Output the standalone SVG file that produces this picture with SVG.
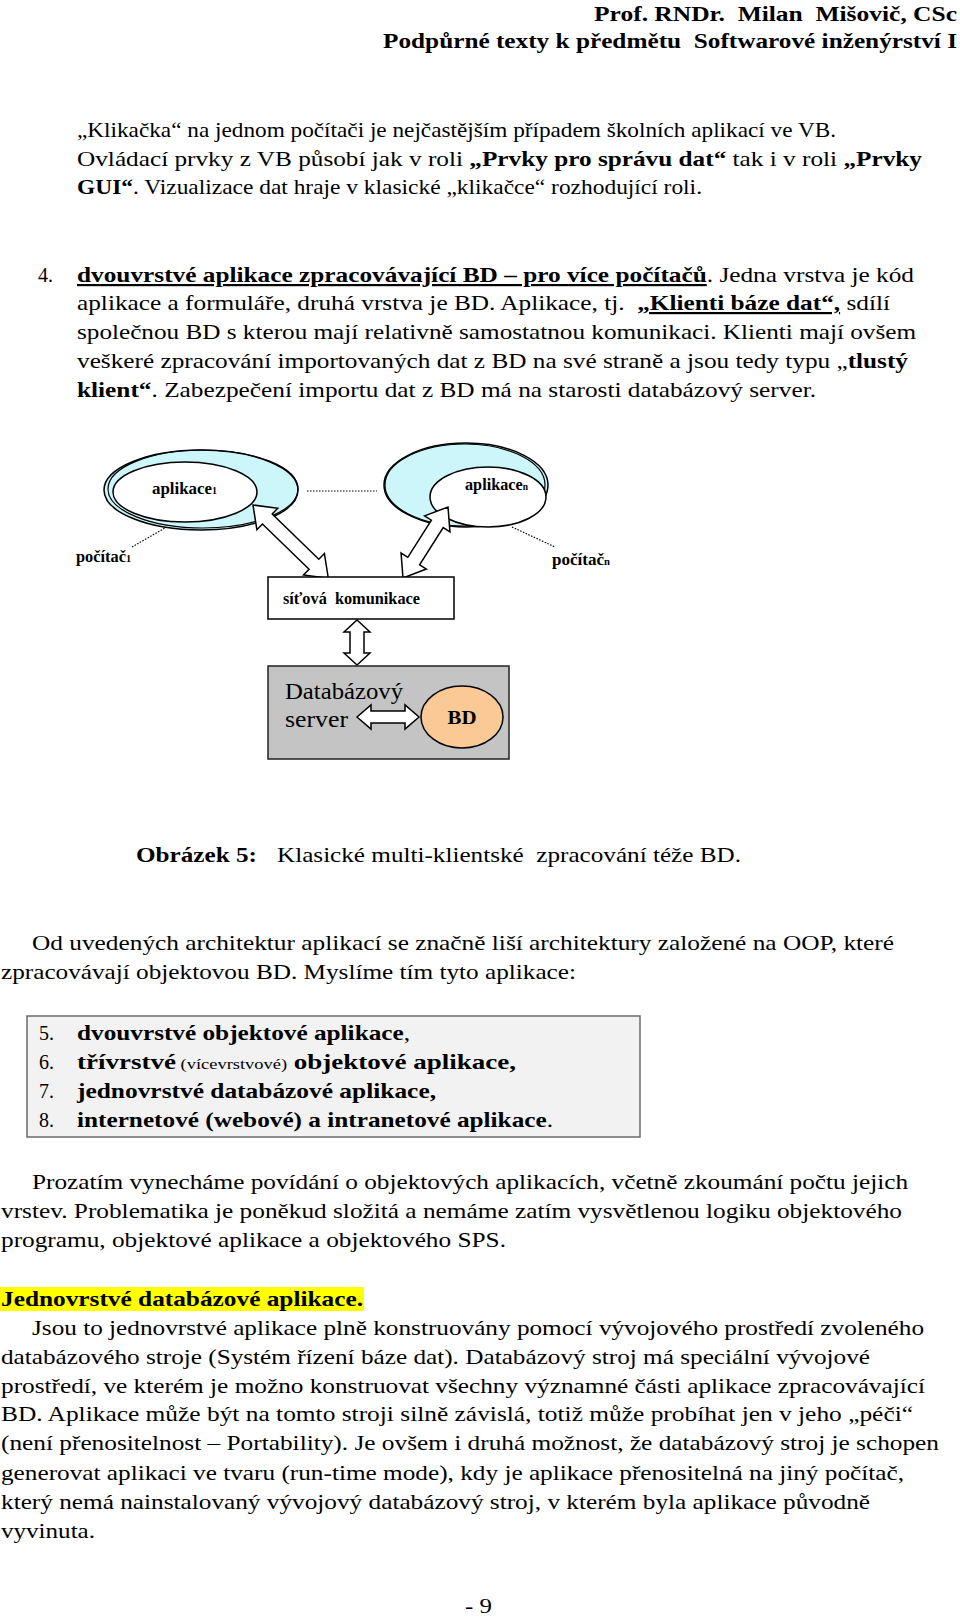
<svg xmlns="http://www.w3.org/2000/svg" width="960" height="1618" viewBox="0 0 960 1618" xml:space="preserve">
<style>
text{font-family:"Liberation Serif","Times New Roman",serif;fill:#000;white-space:pre}
.t{font-size:22px}
.h{font-size:22px;font-weight:bold}
.b{font-weight:bold}
.u{text-decoration:underline}
.sm{font-size:15px;font-weight:normal}
.lbl{font-size:17px;font-weight:bold}
.pc{font-size:16px;font-weight:bold}
.sub{font-size:10px}
.dot{stroke:#000;stroke-width:1.2;stroke-dasharray:1.5 1.5;fill:none}
.arr{fill:#fff;stroke:#000;stroke-width:1.5;stroke-linejoin:miter}
</style>
<rect x="0" y="0" width="960" height="1618" fill="#fff"/>
<g id="header">
<text class="h" x="957" y="21" text-anchor="end" textLength="363" lengthAdjust="spacingAndGlyphs">Prof. RNDr.  Milan  Mišovič, CSc</text>
<text class="h" x="957" y="48" text-anchor="end" textLength="574" lengthAdjust="spacingAndGlyphs">Podpůrné texty k předmětu  Softwarové inženýrství I</text>
</g>
<g id="para1">
<text class="t" x="77" y="137" textLength="759" lengthAdjust="spacingAndGlyphs">„Klikačka“ na jednom počítači je nejčastějším případem školních aplikací ve VB.</text>
<text class="t" x="77" y="166" textLength="845" lengthAdjust="spacingAndGlyphs">Ovládací prvky z VB působí jak v roli <tspan class="b">„Prvky pro správu dat“</tspan> tak i v roli <tspan class="b">„Prvky</tspan></text>
<text class="t" x="77" y="194" textLength="625" lengthAdjust="spacingAndGlyphs"><tspan class="b">GUI“</tspan>. Vizualizace dat hraje v klasické „klikačce“ rozhodující roli.</text>
</g>
<g id="para2">
<text class="t" x="38" y="282" textLength="15" lengthAdjust="spacingAndGlyphs">4.</text>
<text class="t" x="77" y="282" textLength="837" lengthAdjust="spacingAndGlyphs"><tspan class="b u">dvouvrstvé aplikace zpracovávající BD – pro více počítačů</tspan>. Jedna vrstva je kód</text>
<text class="t" x="77" y="310" textLength="813" lengthAdjust="spacingAndGlyphs">aplikace a formuláře, druhá vrstva je BD. Aplikace, tj.  <tspan class="b u">„Klienti báze dat“,</tspan> sdílí</text>
<text class="t" x="77" y="339" textLength="839" lengthAdjust="spacingAndGlyphs">společnou BD s kterou mají relativně samostatnou komunikaci. Klienti mají ovšem</text>
<text class="t" x="77" y="368" textLength="831" lengthAdjust="spacingAndGlyphs">veškeré zpracování importovaných dat z BD na své straně a jsou tedy typu „<tspan class="b">tlustý</tspan></text>
<text class="t" x="77" y="397" textLength="739" lengthAdjust="spacingAndGlyphs"><tspan class="b">klient“</tspan>. Zabezpečení importu dat z BD má na starosti databázový server.</text>
</g>
<g id="connectors">
<line class="dot" x1="307" y1="491" x2="377" y2="491"/>
<line class="dot" x1="132" y1="547" x2="165" y2="528"/>
<line class="dot" x1="512" y1="527" x2="555" y2="547"/>
</g>
<g id="pc1">
<ellipse cx="201" cy="490" rx="97" ry="40" fill="#ccf6fa" stroke="#000" stroke-width="1.5"/>
<ellipse cx="203" cy="489" rx="95" ry="39" fill="none" stroke="#000" stroke-width="1.2"/>
<ellipse cx="185" cy="492" rx="72" ry="30" fill="#fff" stroke="#000" stroke-width="1.5"/>
<text class="lbl" x="152" y="494" textLength="65" lengthAdjust="spacingAndGlyphs">aplikace<tspan class="sub">1</tspan></text>
<text class="pc" x="76" y="562" textLength="55" lengthAdjust="spacingAndGlyphs">počítač<tspan class="sub">1</tspan></text>
</g>
<g id="pcn">
<ellipse cx="466" cy="485" rx="82" ry="42" fill="#ccf6fa" stroke="#000" stroke-width="1.5"/>
<ellipse cx="465" cy="485" rx="80" ry="41" fill="none" stroke="#000" stroke-width="1.2"/>
<ellipse cx="488" cy="497" rx="58" ry="30" fill="#fff" stroke="#000" stroke-width="1.5"/>
<text class="lbl" x="465" y="490" textLength="63" lengthAdjust="spacingAndGlyphs">aplikace<tspan class="sub">n</tspan></text>
<text class="pc" x="552" y="565" textLength="58" lengthAdjust="spacingAndGlyphs">počítač<tspan class="sub">n</tspan></text>
</g>
<g id="arrows">
<path class="arr" transform="translate(253,505) rotate(44.2)" d="M0,0 L20,-15 L20,-7 L85,-7 L85,-15 L105,0 L85,15 L85,7 L20,7 L20,15 Z"/>
<path class="arr" transform="translate(448,507) rotate(122.4)" d="M0,0 L20,-15 L20,-7 L64,-7 L64,-15 L84,0 L64,15 L64,7 L20,7 L20,15 Z"/>
<path class="arr" transform="translate(357,620) rotate(90)" d="M0,0 L12,-13 L12,-7 L33,-7 L33,-13 L45,0 L33,13 L33,7 L12,7 L12,13 Z"/>
</g>
<g id="network">
<rect x="268" y="577" width="186" height="42" fill="#fff" stroke="#000" stroke-width="1.5"/>
<text class="pc" style="font-size:17px" x="283" y="604" textLength="137" lengthAdjust="spacingAndGlyphs">síťová  komunikace</text>
</g>
<g id="dbserver">
<rect x="268" y="666" width="241" height="93" fill="#c4c4c4" stroke="#222" stroke-width="1.5"/>
<text style="font-size:24px" x="285" y="699" textLength="118" lengthAdjust="spacingAndGlyphs">Databázový</text>
<text style="font-size:24px" x="285" y="727" textLength="63" lengthAdjust="spacingAndGlyphs">server</text>
<path class="arr" transform="translate(357,717)" d="M0,0 L14,-12 L14,-6 L48,-6 L48,-12 L62,0 L48,12 L48,6 L14,6 L14,12 Z"/>
</g>
<g id="bd">
<ellipse cx="462" cy="717" rx="41" ry="31" fill="#fbc995" stroke="#000" stroke-width="1.5"/>
<text class="b" style="font-size:19px" x="462" y="724" text-anchor="middle" textLength="29" lengthAdjust="spacingAndGlyphs">BD</text>
</g>
<g id="caption">
<text class="t b" x="136" y="862" textLength="121" lengthAdjust="spacingAndGlyphs">Obrázek 5:</text>
<text class="t" x="277" y="862" textLength="464" lengthAdjust="spacingAndGlyphs">Klasické multi-klientské  zpracování téže BD.</text>
</g>
<g id="para3">
<text class="t" x="32" y="950" textLength="862" lengthAdjust="spacingAndGlyphs">Od uvedených architektur aplikací se značně liší architektury založené na OOP, které</text>
<text class="t" x="1" y="979" textLength="575" lengthAdjust="spacingAndGlyphs">zpracovávají objektovou BD. Myslíme tím tyto aplikace:</text>
</g>
<g id="list">
<rect x="27" y="1016" width="613" height="121" fill="#f2f2f2" stroke="#6b6b6b" stroke-width="1.5"/>
<text class="t" x="39" y="1040" textLength="15" lengthAdjust="spacingAndGlyphs">5.</text>
<text class="t" x="77" y="1040" textLength="333" lengthAdjust="spacingAndGlyphs"><tspan class="b">dvouvrstvé objektové aplikace</tspan>,</text>
<text class="t" x="39" y="1069" textLength="15" lengthAdjust="spacingAndGlyphs">6.</text>
<text class="t" x="77" y="1069" textLength="439" lengthAdjust="spacingAndGlyphs"><tspan class="b">třívrstvé</tspan><tspan class="sm"> (vícevrstvové)</tspan><tspan class="b"> objektové aplikace,</tspan></text>
<text class="t" x="39" y="1098" textLength="15" lengthAdjust="spacingAndGlyphs">7.</text>
<text class="t" x="77" y="1098" textLength="359" lengthAdjust="spacingAndGlyphs"><tspan class="b">jednovrstvé databázové aplikace,</tspan></text>
<text class="t" x="39" y="1127" textLength="15" lengthAdjust="spacingAndGlyphs">8.</text>
<text class="t" x="77" y="1127" textLength="476" lengthAdjust="spacingAndGlyphs"><tspan class="b">internetové (webové) a intranetové aplikace</tspan>.</text>
</g>
<g id="para4">
<text class="t" x="32" y="1189" textLength="876" lengthAdjust="spacingAndGlyphs">Prozatím vynecháme povídání o objektových aplikacích, včetně zkoumání počtu jejich</text>
<text class="t" x="1" y="1218" textLength="901" lengthAdjust="spacingAndGlyphs">vrstev. Problematika je poněkud složitá a nemáme zatím vysvětlenou logiku objektového</text>
<text class="t" x="1" y="1247" textLength="505" lengthAdjust="spacingAndGlyphs">programu, objektové aplikace a objektového SPS.</text>
</g>
<g id="heading">
<rect x="0" y="1287" width="364" height="24" fill="#ffff00"/>
<text class="t b" x="1" y="1306" textLength="362" lengthAdjust="spacingAndGlyphs">Jednovrstvé databázové aplikace.</text>
</g>
<g id="para5">
<text class="t" x="32" y="1335" textLength="892" lengthAdjust="spacingAndGlyphs">Jsou to jednovrstvé aplikace plně konstruovány pomocí vývojového prostředí zvoleného</text>
<text class="t" x="1" y="1364" textLength="869" lengthAdjust="spacingAndGlyphs">databázového stroje (Systém řízení báze dat). Databázový stroj má speciální vývojové</text>
<text class="t" x="1" y="1393" textLength="924" lengthAdjust="spacingAndGlyphs">prostředí, ve kterém je možno konstruovat všechny významné části aplikace zpracovávající</text>
<text class="t" x="1" y="1421" textLength="912" lengthAdjust="spacingAndGlyphs">BD. Aplikace může být na tomto stroji silně závislá, totiž může probíhat jen v jeho „péči“</text>
<text class="t" x="1" y="1450" textLength="938" lengthAdjust="spacingAndGlyphs">(není přenositelnost – Portability). Je ovšem i druhá možnost, že databázový stroj je schopen</text>
<text class="t" x="1" y="1480" textLength="903" lengthAdjust="spacingAndGlyphs">generovat aplikaci ve tvaru (run-time mode), kdy je aplikace přenositelná na jiný počítač,</text>
<text class="t" x="1" y="1509" textLength="869" lengthAdjust="spacingAndGlyphs">který nemá nainstalovaný vývojový databázový stroj, v kterém byla aplikace původně</text>
<text class="t" x="1" y="1538" textLength="94" lengthAdjust="spacingAndGlyphs">vyvinuta.</text>
</g>
<g id="footer">
<text class="t" x="465" y="1613" textLength="27" lengthAdjust="spacingAndGlyphs">- 9</text>
</g>
</svg>
